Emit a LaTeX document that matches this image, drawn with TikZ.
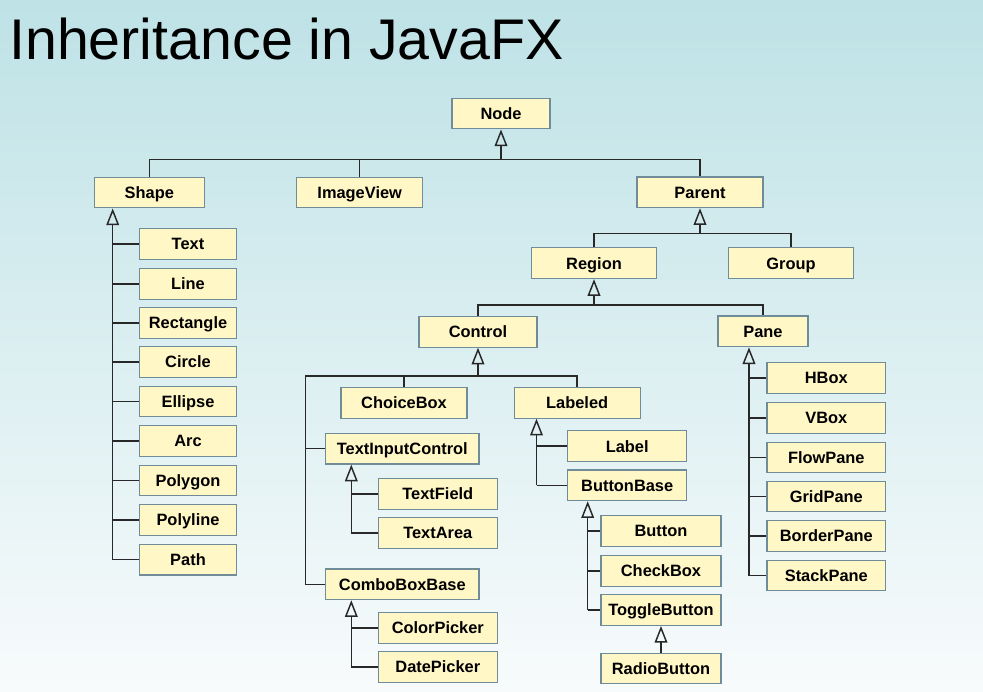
\documentclass[tikz,border=0pt]{standalone}
\usepackage{fontspec}
\setmainfont{Liberation Sans}
\usetikzlibrary{positioning, arrows.meta}
\definecolor{mybgtop}{RGB}{190,226,230}
\definecolor{mybgbottom}{RGB}{248,251,252}
\definecolor{myyellow}{RGB}{255,247,198}
\definecolor{myborder}{RGB}{111,140,152}
\definecolor{myline}{RGB}{40,40,40}

\begin{document}
\begin{tikzpicture}[
		x=0.75pt, y=-0.75pt,
		box/.style={rectangle, draw=myborder, line width=0.9pt, fill=myyellow, minimum width=#1, minimum height=23pt, inner sep=0pt, text height=8.8pt, text depth=0pt, text centered, font=\fontsize{12.3}{14}\selectfont\bfseries},
		line/.style={draw=myline, line width=1.1pt},
		inherit/.style={line, -{Triangle[open, length=12.5pt, width=9.5pt]}}
		]
		
		% Background
		\shade[top color=mybgtop, bottom color=mybgbottom] (0,0) rectangle (983,692);
		\useasboundingbox (0,0) rectangle (983,692);
		\node[anchor=base west, inner sep=0pt, font=\fontsize{43}{48}\selectfont] (title) at (9,60) {Inheritance in JavaFX};
		
		% Nodes
		\node[box=73.5pt] (root) at (501,113.5) {Node};
		\node[box=82.5pt] (shape) at (149.3,192.5) {Shape};
		\node[box=94.5pt] (imageview) at (359.7,192.5) {ImageView};
		\node[box=94.5pt] (parent) at (700,192.3) {Parent};
		
		\node[box=73pt] (text) at (188,243.8) {Text};
		\node[box=73pt] (line) at (188,283.8) {Line};
		\node[box=73pt] (rect) at (188,322.8) {Rectangle};
		\node[box=73pt] (circle) at (188,362) {Circle};
		\node[box=73pt] (ellipse) at (188,401.5) {Ellipse};
		\node[box=73pt] (arc) at (188,441) {Arc};
		\node[box=73pt] (polygon) at (188,480.5) {Polygon};
		\node[box=73pt] (polyline) at (188,520) {Polyline};
		\node[box=73pt] (path) at (188,559.7) {Path};
		
		\node[box=94pt] (region) at (594,263.2) {Region};
		\node[box=94pt] (group) at (791,263.2) {Group};
		\node[box=88.5pt] (control) at (478,331.8) {Control};
		\node[box=67.5pt] (pane) at (763,331.4) {Pane};
		
		\node[box=94.5pt] (choicebox) at (404,402.8) {ChoiceBox};
		\node[box=94.5pt] (labeled) at (577.2,402.8) {Labeled};
		\node[box=115pt] (textinput) at (402.3,448.7) {TextInputControl};
		\node[box=89pt] (textfield) at (437.8,494) {TextField};
		\node[box=89pt] (textarea) at (437.8,533) {TextArea};
		\node[box=115pt] (combobox) at (402.3,584.3) {ComboBoxBase};
		\node[box=89pt] (colorpicker) at (437.8,628) {ColorPicker};
		\node[box=89pt] (datepicker) at (437.8,667) {DatePicker};
		
		\node[box=89pt] (label) at (627.2,446.2) {Label};
		\node[box=89pt] (buttonbase) at (627.2,485.3) {ButtonBase};
		\node[box=90pt] (button) at (661,531) {Button};
		\node[box=90pt] (checkbox) at (661,571) {CheckBox};
		\node[box=90pt] (togglebutton) at (661,610) {ToggleButton};
		\node[box=90pt] (radiobutton) at (661,668.5) {RadioButton};
		
		\node[box=89pt] (hbox) at (826.3,378) {HBox};
		\node[box=89pt] (vbox) at (826.3,418) {VBox};
		\node[box=89pt] (flowpane) at (826.3,457.5) {FlowPane};
		\node[box=89pt] (gridpane) at (826.3,496.5) {GridPane};
		\node[box=89pt] (borderpane) at (826.3,536) {BorderPane};
		\node[box=89pt] (stackpane) at (826.3,575.5) {StackPane};
		
		% Bus and trunk points
		\coordinate (rootbus) at (501,159.3);
		\coordinate (parentbus) at (700,233.3);
		\coordinate (regionbus) at (594,305);
		\coordinate (controlbus) at (478,376);
		\coordinate (shapetrunk) at (112.7,0);
		\coordinate (controltrunk) at (305.7,0);
		\coordinate (tictrunk) at (351.3,0);
		\coordinate (labeledtrunk) at (536.5,0);
		\coordinate (bbtrunk) at (587.7,0);
		\coordinate (panetrunk) at (749,0);
		
		% Arrows
		\draw[line] (shape.north) |- (rootbus) -| (parent.north);
		\draw[line] (imageview.north) -- (imageview.north |- rootbus);
		\draw[inherit] (rootbus) -- (root.south);
		
		\draw[inherit] (path.west -| shapetrunk) -- (shape.south -| shapetrunk);
		\foreach \c in {text,line,rect,circle,ellipse,arc,polygon,polyline,path}
			\draw[line] (\c.west) -- (\c.west -| shapetrunk);
		
		\draw[line] (region.north) |- (parentbus) -| (group.north);
		\draw[inherit] (parentbus) -- (parent.south);
		
		\draw[line] (control.north) |- (regionbus) -| (pane.north);
		\draw[inherit] (regionbus) -- (region.south);
		
		\draw[line] (combobox.west) -| (controltrunk |- controlbus) -| (labeled.north);
		\draw[line] (choicebox.north) -- (choicebox.north |- controlbus);
		\draw[line] (textinput.west) -- (textinput.west -| controltrunk);
		\draw[inherit] (controlbus) -- (control.south);
		
		\draw[inherit] (textarea.west -| tictrunk) -- (textinput.south -| tictrunk);
		\draw[inherit] (datepicker.west -| tictrunk) -- (combobox.south -| tictrunk);
		\foreach \c in {textfield,textarea,colorpicker,datepicker}
			\draw[line] (\c.west) -- (\c.west -| tictrunk);
		
		\draw[inherit] (buttonbase.west -| labeledtrunk) -- (labeled.south -| labeledtrunk);
		\foreach \c in {label,buttonbase}
			\draw[line] (\c.west) -- (\c.west -| labeledtrunk);
		
		\draw[inherit] (togglebutton.west -| bbtrunk) -- (buttonbase.south -| bbtrunk);
		\foreach \c in {button,checkbox,togglebutton}
			\draw[line] (\c.west) -- (\c.west -| bbtrunk);
		\draw[inherit] (radiobutton.north) -- (togglebutton.south);
		
		\draw[inherit] (stackpane.west -| panetrunk) -- (pane.south -| panetrunk);
		\foreach \c in {hbox,vbox,flowpane,gridpane,borderpane,stackpane}
			\draw[line] (\c.west) -- (\c.west -| panetrunk);
		
	\end{tikzpicture}
\end{document}
